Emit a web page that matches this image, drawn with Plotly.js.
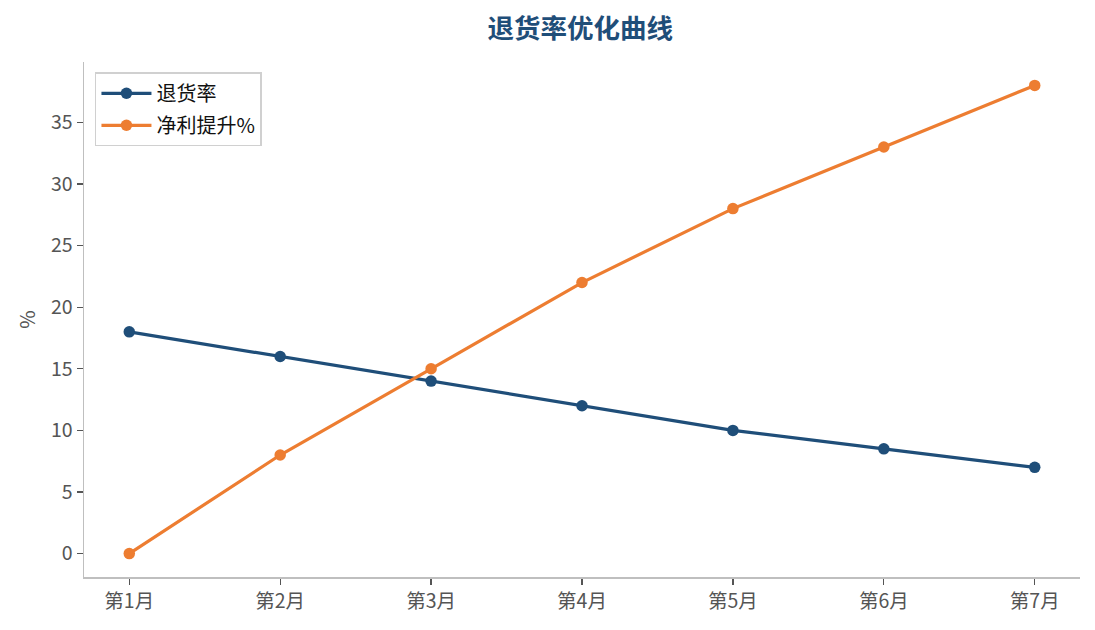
<!DOCTYPE html>
<html>
<head>
<meta charset="utf-8">
<script src="https://cdn.plot.ly/plotly-3.0.1.min.js"></script>
<style>html,body{margin:0;padding:0;background:#fff;}#chart{width:1095px;height:630px;}</style>
</head>
<body>
<div id="chart"></div>
<script>
const months = ["第1月","第2月","第3月","第4月","第5月","第6月","第7月"];
const returnRate = [18, 16, 14, 12, 10, 8.5, 7];
const profitLift = [0, 8, 15, 22, 28, 33, 38];
const yTicks = [0, 5, 10, 15, 20, 25, 30, 35];

const FONT = '"Noto Sans CJK SC", "Noto Sans", sans-serif';
const traces = [
  {x: months, y: returnRate, name: "退货率", type: "scatter", mode: "lines+markers", legendgroup: "a",
   line: {color: "#1f4e79", width: 3.2}, marker: {color: "#1f4e79", size: 11.5}},
  {x: months, y: profitLift, name: "净利提升%", type: "scatter", mode: "lines+markers", legendgroup: "b",
   line: {color: "#ed7d31", width: 3.2}, marker: {color: "#ed7d31", size: 11.5}}
];
const layout = {
  width: 1095, height: 630,
  margin: {l: 84, r: 15, t: 62, b: 53},
  paper_bgcolor: "#fff", plot_bgcolor: "#fff",
  font: {family: FONT, size: 19, color: "#555"},
  title: {text: "<b>退货率优化曲线</b>", font: {family: FONT, size: 26.5, color: "#1f4e79"}, x: 0.53, xanchor: "center", y: 0.955, yanchor: "middle"},
  xaxis: {type: "category", range: [-0.3, 6.3], showgrid: false, zeroline: false,
          showline: true, linecolor: "#bfbfbf", linewidth: 1.5,
          ticks: "outside", ticklen: 6, tickcolor: "#555", tickwidth: 1.2,
          tickfont: {family: FONT, size: 19.5, color: "#555"}},
  yaxis: {range: [-1.9, 39.9], tickvals: yTicks, showgrid: false, zeroline: false,
          showline: true, linecolor: "#bfbfbf", linewidth: 1.5,
          ticks: "outside", ticklen: 6, tickcolor: "#555", tickwidth: 1.2,
          tickfont: {family: FONT, size: 19.5, color: "#555"},
          title: {text: "%", font: {family: FONT, size: 20, color: "#555"}, standoff: 10}},
  legend: {x: 0.011, y: 0.98, xanchor: "left", yanchor: "top", itemwidth: 50,
           traceorder: "grouped", tracegroupgap: 3,
           bgcolor: "#fff", bordercolor: "#d0d0d0", borderwidth: 1.5,
           font: {family: FONT, size: 20, color: "#111"}},
  showlegend: true
};
Plotly.newPlot("chart", traces, layout, {displayModeBar: false, staticPlot: true});
</script>
</body>
</html>
